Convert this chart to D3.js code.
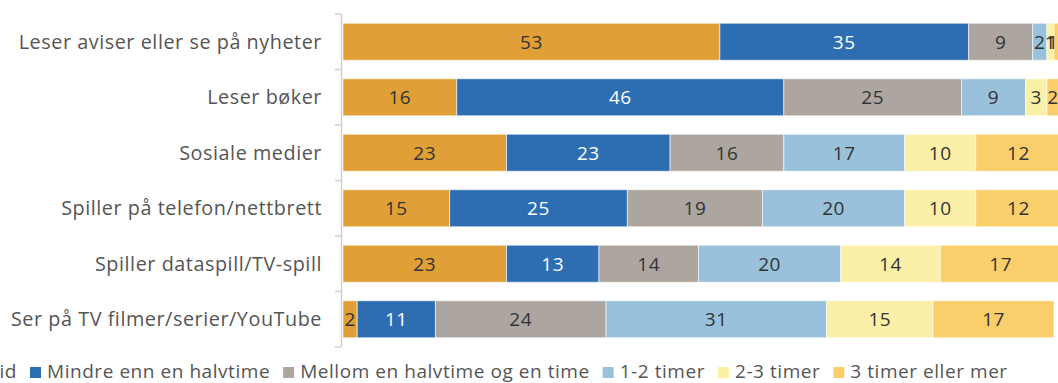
<!DOCTYPE html>
<html><head><meta charset="utf-8">
<script src="https://cdn.jsdelivr.net/npm/d3@7"></script>
<style>
html,body{margin:0;padding:0;background:#fff;overflow:hidden}
svg{display:block;font-family:"Open Sans", Roboto, sans-serif}
</style></head>
<body>
<svg id="chart" width="1058" height="383"></svg>
<script>
const categories = [
  "Leser aviser eller se på nyheter",
  "Leser bøker",
  "Sosiale medier",
  "Spiller på telefon/nettbrett",
  "Spiller dataspill/TV-spill",
  "Ser på TV filmer/serier/YouTube"
];
const seriesNames = ["Ingen tid","Mindre enn en halvtime","Mellom en halvtime og en time","1-2 timer","2-3 timer","3 timer eller mer"];
const ingenTid      = [53, 16, 23, 15, 23, 2];
const mindreEnnHalv = [35, 46, 23, 25, 13, 11];
const halvTilTime   = [9, 25, 16, 19, 14, 24];
const enTilTo       = [2, 9, 17, 20, 20, 31];
const toTilTre      = [1, 3, 10, 10, 14, 15];
const treEllerMer   = [1, 2, 12, 12, 17, 17];
const seriesValues = [ingenTid, mindreEnnHalv, halvTilTime, enTilTo, toTilTre, treEllerMer];
const colors = ["#E09F37","#2D6EB3","#ADA6A0","#99C1DB","#FCF0A8","#F9CE6B"];
const labelColors = ["#333","#fff","#333","#333","#333","#333"];
const LS = "0.55px";

const svg = d3.select("#chart");
const x = d3.scaleLinear().domain([0,100]).range([343,1054]);
const y = d3.scaleBand().domain(categories).range([14,347]).paddingInner(0.333).paddingOuter(0.1665);

const rows = categories.map((c,i)=>{
  const o = {cat:c};
  seriesNames.forEach((s,j)=>o[s]=seriesValues[j][i]);
  return o;
});
const stack = d3.stack().keys(seriesNames)(rows);

const g = svg.append("g");
stack.forEach((layer,j)=>{
  const lg = g.append("g");
  lg.selectAll("rect").data(layer).join("rect")
    .attr("x",d=>x(d[0]))
    .attr("y",d=>y(d.data.cat))
    .attr("width",d=>x(d[1])-x(d[0]))
    .attr("height",y.bandwidth())
    .attr("fill",colors[j])
    .attr("stroke","rgba(255,255,255,0.6)")
    .attr("stroke-width",1);
  lg.selectAll("text").data(layer).join("text")
    .attr("x",d=>Math.min((x(d[0])+x(d[1]))/2, 1053))
    .attr("y",d=>y(d.data.cat)+y.bandwidth()/2)
    .attr("dy","0.36em")
    .attr("text-anchor","middle")
    .attr("font-size",19)
    .attr("letter-spacing",LS)
    .attr("fill",labelColors[j])
    .text(d=>d[1]-d[0]);
});

const ax = svg.append("g");
const step = y.step();
const top0 = y(categories[0]) - y.paddingInner()*step/2;
const bounds = d3.range(categories.length+1).map(i=>top0 + i*step);
ax.append("line").attr("x1",341.5).attr("x2",341.5)
  .attr("y1",bounds[0]).attr("y2",bounds[bounds.length-1])
  .attr("stroke","#d0d0d0").attr("stroke-width",1.5);
ax.selectAll("line.tick").data(bounds).join("line").attr("class","tick")
  .attr("x1",335).attr("x2",341.5).attr("y1",d=>d).attr("y2",d=>d)
  .attr("stroke","#d0d0d0").attr("stroke-width",1.5);
ax.selectAll("text").data(categories).join("text")
  .attr("x",322).attr("y",d=>y(d)+y.bandwidth()/2).attr("dy","0.36em")
  .attr("text-anchor","end").attr("font-size",19.8).attr("letter-spacing",LS).attr("fill","#555")
  .text(d=>d);

const leg = svg.append("g");
const items = seriesNames.map((s,i)=>{
  const it = leg.append("g");
  it.append("rect").attr("width",11).attr("height",11).attr("y",-11).attr("fill",colors[i]);
  const t = it.append("text").attr("x",17).attr("y",0).attr("font-size",19).attr("letter-spacing",LS).attr("fill","#555").text(s);
  return {it, w:17+t.node().getComputedTextLength()};
});
let pos = [], cx = 0;
items.forEach(d=>{pos.push(cx); cx += d.w + 13;});
const shift = 30 - pos[1];
items.forEach((d,i)=>d.it.attr("transform",`translate(${pos[i]+shift},378)`));
</script>
</body></html>
